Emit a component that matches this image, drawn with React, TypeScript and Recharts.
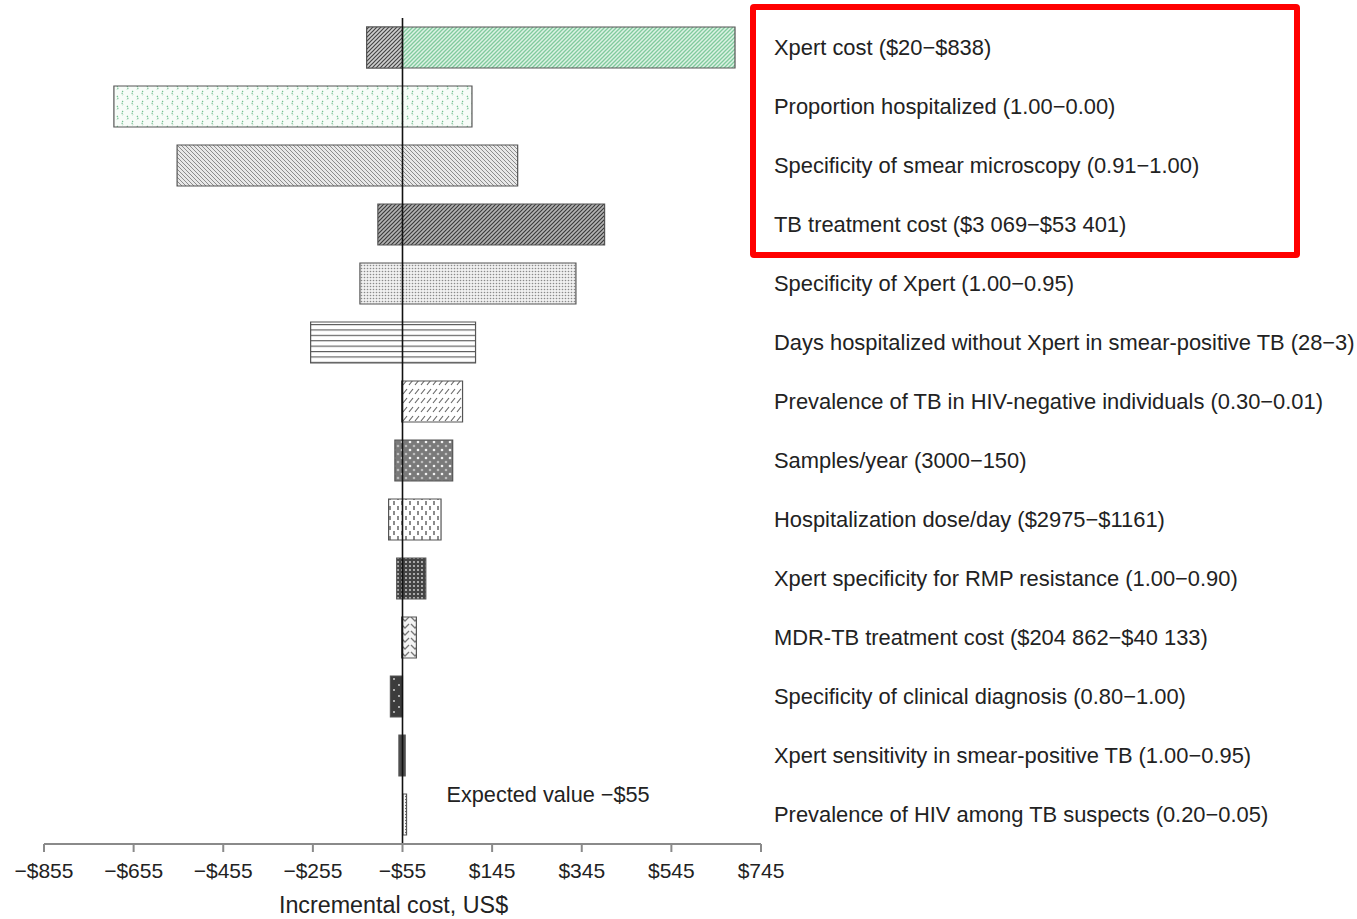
import React from 'react';
import { BarChart, Bar, XAxis, YAxis, Cell, ReferenceLine, Label } from 'recharts';

// parameters, top to bottom as drawn
const categories = [
  'Xpert cost ($20−$838)',
  'Proportion hospitalized (1.00−0.00)',
  'Specificity of smear microscopy (0.91−1.00)',
  'TB treatment cost ($3 069−$53 401)',
  'Specificity of Xpert (1.00−0.95)',
  'Days hospitalized without Xpert in smear-positive TB (28−3)',
  'Prevalence of TB in HIV-negative individuals (0.30−0.01)',
  'Samples/year (3000−150)',
  'Hospitalization dose/day ($2975−$1161)',
  'Xpert specificity for RMP resistance (1.00−0.90)',
  'MDR-TB treatment cost ($204 862−$40 133)',
  'Specificity of clinical diagnosis (0.80−1.00)',
  'Xpert sensitivity in smear-positive TB (1.00−0.95)',
  'Prevalence of HIV among TB suspects (0.20−0.05)',
];

// incremental cost (US$) at each end of the range
const lowValues = [-135, -699, -558, -110, -150, -260, -57, -72, -86, -68, -57, -82, -63, -54];
const highValues = [687, 100, 202, 396, 332, 108, 79, 57, 31, -3, -24, -55, -49, -46];

const expectedValue = -55;
const xTicks = [-855, -655, -455, -255, -55, 145, 345, 545, 745];

// only the Xpert cost bar changes shading below the expected value
const twoToneRows = [0];

const patternIds = ['p0', 'p1', 'p2', 'p3', 'p4', 'p5', 'p6', 'p7', 'p8', 'p9', 'p10', 'p11', 'p12', 'p13'];

const data = categories.map((name, i) => ({
  name,
  range: [lowValues[i], highValues[i]],
  below: twoToneRows.includes(i) ? [lowValues[i], expectedValue] : null,
}));

const fmtMoney = (v: number) => (v < 0 ? `−$${Math.abs(v)}` : `$${v}`);

const FONT = '"Liberation Sans", Arial, sans-serif';

const Patterns = () => (
  <defs>
    {/* green diagonal hatch */}
    <pattern id="p0" width="4" height="4" patternUnits="userSpaceOnUse">
      <rect width="4" height="4" fill="#dcf2e4" />
      <path d="M-1,1 l2,-2 M0,4 l4,-4 M3,5 l2,-2" stroke="#80ca9d" strokeWidth="1.3" />
    </pattern>
    {/* dark grey hatch (Xpert cost, left part) */}
    <pattern id="p0b" width="4" height="4" patternUnits="userSpaceOnUse">
      <rect width="4" height="4" fill="#cfcfcf" />
      <path d="M-1,1 l2,-2 M0,4 l4,-4 M3,5 l2,-2" stroke="#444" strokeWidth="1.2" />
    </pattern>
    {/* green little arcs */}
    <pattern id="p1" width="10" height="10" patternUnits="userSpaceOnUse">
      <rect width="10" height="10" fill="#f7fcf8" />
      <path d="M3,1 q-1.8,2 0,4" stroke="#6fbf8e" strokeWidth="1.2" fill="none" strokeDasharray="1.2 0.8" />
      <path d="M7,6 q1.8,2 0,4" stroke="#6fbf8e" strokeWidth="1.2" fill="none" strokeDasharray="1.2 0.8" />
    </pattern>
    {/* light grey back hatch */}
    <pattern id="p2" width="4" height="4" patternUnits="userSpaceOnUse">
      <rect width="4" height="4" fill="#e8e8e8" />
      <path d="M-1,3 l2,2 M0,0 l4,4 M3,-1 l2,2" stroke="#8c8c8c" strokeWidth="1" />
    </pattern>
    {/* dense dark hatch */}
    <pattern id="p3" width="4" height="4" patternUnits="userSpaceOnUse">
      <rect width="4" height="4" fill="#b4b4b4" />
      <path d="M-1,1 l2,-2 M0,4 l4,-4 M3,5 l2,-2" stroke="#3a3a3a" strokeWidth="1.2" />
    </pattern>
    {/* fine dots */}
    <pattern id="p4" width="3" height="3" patternUnits="userSpaceOnUse">
      <rect width="3" height="3" fill="#f0f0f0" />
      <circle cx="1.5" cy="1.5" r="0.8" fill="#8a8a8a" />
    </pattern>
    {/* horizontal lines */}
    <pattern id="p5" width="10" height="5.4" patternUnits="userSpaceOnUse">
      <rect width="10" height="5.4" fill="#fff" />
      <line x1="0" y1="0.6" x2="10" y2="0.6" stroke="#444" strokeWidth="1" />
    </pattern>
    {/* short slanted dashes */}
    <pattern id="p6" width="6" height="9" patternUnits="userSpaceOnUse">
      <rect width="6" height="9" fill="#fff" />
      <path d="M1,7 L5,2" stroke="#666" strokeWidth="1.2" />
    </pattern>
    {/* grey with light dots */}
    <pattern id="p7" width="8" height="8" patternUnits="userSpaceOnUse">
      <rect width="8" height="8" fill="#7a7a7a" />
      <circle cx="2" cy="2" r="1.3" fill="#f2f2f2" />
      <circle cx="6" cy="6" r="1.3" fill="#bdbdbd" />
    </pattern>
    {/* vertical dashes */}
    <pattern id="p8" width="8" height="10" patternUnits="userSpaceOnUse">
      <rect width="8" height="10" fill="#fff" />
      <line x1="2" y1="1" x2="2" y2="5" stroke="#666" strokeWidth="1.5" />
      <line x1="6" y1="6" x2="6" y2="10" stroke="#666" strokeWidth="1.5" />
    </pattern>
    {/* dense dark with light dots */}
    <pattern id="p9" width="4" height="4" patternUnits="userSpaceOnUse">
      <rect width="4" height="4" fill="#444" />
      <circle cx="2" cy="2" r="0.9" fill="#d8d8d8" />
    </pattern>
    {/* chevrons */}
    <pattern id="p10" width="10" height="7" patternUnits="userSpaceOnUse">
      <rect width="10" height="7" fill="#f4f4f4" />
      <path d="M1,1 L5,5 L9,1" stroke="#777" strokeWidth="1.3" fill="none" />
    </pattern>
    {/* dark sparse dots */}
    <pattern id="p11" width="9" height="11" patternUnits="userSpaceOnUse">
      <rect width="9" height="11" fill="#3c3c3c" />
      <circle cx="3" cy="3" r="1" fill="#cfcfcf" />
      <circle cx="7" cy="8" r="1" fill="#cfcfcf" />
    </pattern>
    <pattern id="p12" width="4" height="4" patternUnits="userSpaceOnUse">
      <rect width="4" height="4" fill="#4a4a4a" />
    </pattern>
    {/* dotted */}
    <pattern id="p13" width="4" height="3" patternUnits="userSpaceOnUse">
      <rect width="4" height="3" fill="#fff" />
      <circle cx="2" cy="1.5" r="0.8" fill="#333" />
    </pattern>
  </defs>
);

const ExpectedLabel = ({ viewBox }: any) => {
  if (!viewBox) return null;
  return (
    <text x={viewBox.x + 44} y={viewBox.y + viewBox.height - 42} fontSize={21.7} fill="#222" fontFamily={FONT}>
      Expected value −$55
    </text>
  );
};

export default function App() {
  return (
    <div style={{ position: 'absolute', left: 0, top: 0, width: 1357, height: 919, background: '#fff', fontFamily: FONT }}>
      <BarChart
        width={1357}
        height={919}
        data={data}
        layout="vertical"
        margin={{ top: 18, right: 6, bottom: 0, left: 44 }}
      >
        <Patterns />
        <XAxis
          type="number"
          domain={[-855, 745]}
          ticks={xTicks}
          tickFormatter={fmtMoney}
          height={75}
          xAxisId="x"
          stroke="#8a8a8a"
          strokeWidth={2}
          tickSize={8}
          tickMargin={11}
          tick={{ fontSize: 21, fill: '#222' }}
        >
          <Label value="Incremental cost, US$" position="insideBottom" offset={6} dx={-9} fontSize={23.3} fill="#222" />
        </XAxis>
        <YAxis
          type="category"
          dataKey="name"
          yAxisId="main"
          orientation="right"
          width={590}
          axisLine={false}
          tickLine={false}
          tickSize={0}
          tickMargin={13}
          tick={{ fontSize: 21.9, fill: '#222', textAnchor: 'start' }}
          interval={0}
        />
        <YAxis type="category" dataKey="name" yAxisId="over" hide />
        <Bar dataKey="range" xAxisId="x" yAxisId="main" barSize={41} stroke="#555" strokeWidth={1.2} isAnimationActive={false}>
          {data.map((d, i) => (
            <Cell key={d.name} fill={`url(#${patternIds[i]})`} />
          ))}
        </Bar>
        <Bar dataKey="below" xAxisId="x" yAxisId="over" barSize={41} stroke="#555" strokeWidth={1.2} fill="url(#p0b)" isAnimationActive={false} />
        <ReferenceLine x={expectedValue} xAxisId="x" yAxisId="main" stroke="#111" strokeWidth={1.6} label={<ExpectedLabel />} />
      </BarChart>
      <div
        style={{
          position: 'absolute',
          left: 750,
          top: 4,
          width: 550,
          height: 254,
          border: '6px solid #ff0000',
          borderRadius: 4,
          boxSizing: 'border-box',
        }}
      />
    </div>
  );
}
